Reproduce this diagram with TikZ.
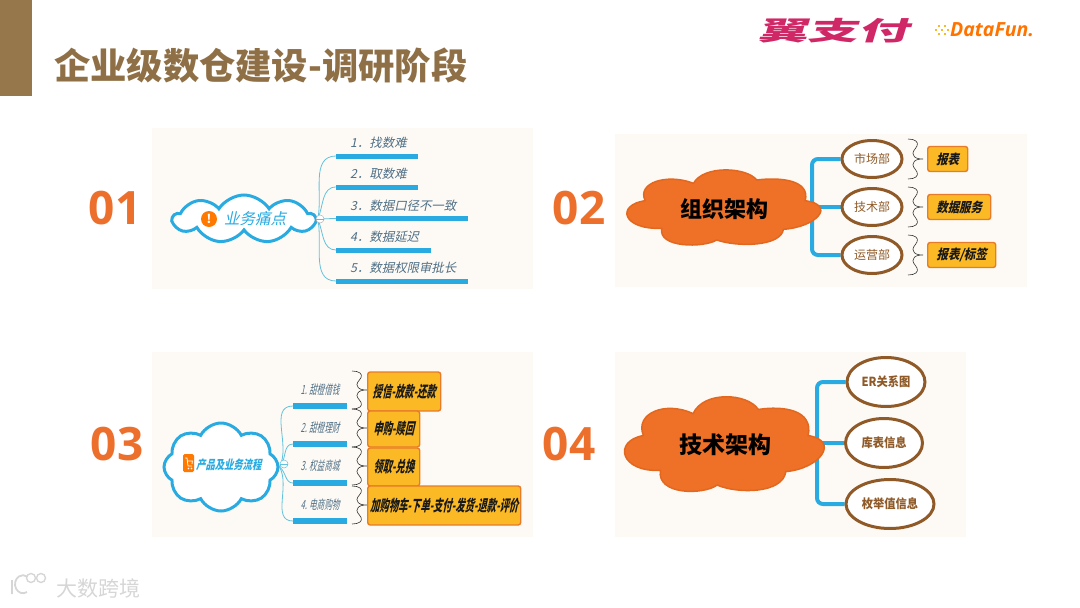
\documentclass[tikz,border=0pt]{standalone}
\usepackage{fontspec}
\usepackage{tikz}
\usetikzlibrary{shapes.symbols,shapes.geometric,backgrounds}
\newfontfamily\cjk{Noto Sans CJK SC}
\newfontfamily\cjkslant[FakeSlant=0.22]{Noto Sans CJK SC}
\newfontfamily\cjkmid[FakeSlant=0.22,FakeStretch=0.85]{Noto Sans CJK SC}
\newfontfamily\cjkflow[FakeSlant=0.22,FakeStretch=0.75]{Noto Sans CJK SC}
\newfontfamily\cjknarrow[FakeSlant=0.22,FakeStretch=0.6]{Noto Sans CJK SC}
\newfontfamily\cjktall[FakeStretch=0.9]{Noto Sans CJK SC}
\newfontfamily\logofont[FakeSlant=0.3,FakeStretch=1.95]{Noto Sans CJK SC}
\newfontfamily\numfont{Open Sans}
\definecolor{barbrown}{HTML}{96774C}
\definecolor{titlebrown}{HTML}{8F7046}
\definecolor{numorange}{HTML}{EC6F2C}
\definecolor{skyblue}{HTML}{29ABE2}
\definecolor{thinblue}{HTML}{62C2DE}
\definecolor{paper}{HTML}{FDFAF5}
\definecolor{cloudfill}{HTML}{EE7127}
\definecolor{cloudedge}{HTML}{E2671F}
\definecolor{ringbrown}{HTML}{8F5A28}
\definecolor{boxfill}{HTML}{FBB926}
\definecolor{boxedge}{HTML}{E87B2A}
\definecolor{labelblue}{HTML}{4F6F86}
\definecolor{markgray}{HTML}{D6D6D6}
\tikzset{
  paperbox/.style={fill=paper,draw=none},
  bignum/.style={text=numorange,font=\numfont\bfseries\fontsize{46}{46}\selectfont,inner sep=0pt},
  bluecloud/.style={shape=cloud,cloud puffs=9,cloud puff arc=115,cloud ignores aspect,draw=skyblue,line width=3pt,fill=white,inner sep=0pt},
  cloudtext/.style={inner sep=0pt,text=black,font=\cjk\bfseries\fontsize{22}{22}\selectfont},
  ring/.style={shape=ellipse,draw=ringbrown,line width=3pt,fill=white,text=ringbrown,inner sep=0pt},
  bar/.style={fill=skyblue,inner sep=0pt,minimum height=5pt},
  barlabel/.style={text=labelblue,inner sep=0pt},
  yellowbox/.style={fill=boxfill,draw=boxedge,line width=1.4pt,rounded corners=2.5pt,inner sep=0pt,text=black!90},
  thinlink/.style={draw=thinblue,line width=0.8pt},
  thicklink/.style={draw=skyblue,line width=4pt,rounded corners=6pt},
  foldmark/.style={shape=circle,draw=gray!60,fill=white,line width=0.5pt,minimum size=8pt,inner sep=0pt},
  curly/.pic={
    \draw[line width=0.6pt,black!80] (-5,-20) .. controls (2,-20) and (6,-17) .. (4,-13)
      .. controls (2,-9) and (-2,-7) .. (1,-3) .. controls (2,-1) and (5,0) .. (10,0)
      .. controls (5,0) and (2,1) .. (1,3) .. controls (-2,7) and (2,9) .. (4,13)
      .. controls (6,17) and (2,20) .. (-5,20);
  },
  % lobed outline, 192 wide and 72 high around its centre
  orangeblob/.pic={
    \draw[fill=cloudfill,draw=cloudedge,line width=1.5pt] (-77.3,-8.3)
      .. controls (-107,-4) and (-100,21) .. (-60.7,19.3)
      .. controls (-65,39) and (-19,39) .. (-5.7,31)
      .. controls (14,38) and (58,38) .. (61,20.3)
      .. controls (94,18) and (114,-4) .. (82.7,-8.3)
      .. controls (88,-29) and (58,-32) .. (34.3,-29)
      .. controls (24,-42) and (-19,-44) .. (-29,-25.7)
      .. controls (-56,-36) and (-86,-26) .. (-77.3,-8.3) -- cycle;
  }
}
\begin{document}
\begin{tikzpicture}[x=1pt,y=-1pt]
  \useasboundingbox (0,0) rectangle (1080,608);
  % paper panels
  \begin{scope}[on background layer]
    \fill[paperbox] (152,128) rectangle (533,289);
    \fill[paperbox] (615,134) rectangle (1027,287);
    \fill[paperbox] (152,352) rectangle (533,537);
    \fill[paperbox] (615,352) rectangle (966,537);
  \end{scope}
  % header
  \fill[barbrown] (0,0) rectangle (32,96);
  \node[anchor=west,inner sep=0pt,text=titlebrown,font=\cjk\bfseries\fontsize{36.3}{37}\selectfont] (title) at (54,66) {企业级数仓建设-调研阶段};
  \node[anchor=west,inner sep=0pt,text=magenta!65!red!85!black,font=\logofont\bfseries\fontsize{26}{26}\selectfont] (paylogo) at (757,31) {翼支付};
  \foreach \x/\y in {936/30,939/26,939/34,942/30,945/26,945/34,948/30} {
    \fill[boxfill] (\x-1.3,\y-1.3) rectangle (\x+1.3,\y+1.3);
  }
  \node[anchor=west,inner sep=0pt,text=orange!90!red,font=\numfont\bfseries\itshape\fontsize{19.5}{20}\selectfont] (funlogo) at (950,30) {DataFun.};
  % numbers
  \node[bignum] (n1) at (115,208) {01};
  \node[bignum] (n2) at (579,208) {02};
  \node[bignum] (n3) at (117,444) {03};
  \node[bignum] (n4) at (569,444) {04};
  % panel 1
  \node[bluecloud,minimum width=142pt,minimum height=48pt] (pain) at (244,219) {};
  \node[shape=circle,fill=orange!95!red,text=white,minimum size=16pt,inner sep=0pt,font=\cjk\bfseries\fontsize{12}{12}\selectfont] (painicon) at (209,219) {!};
  \node[anchor=west,inner sep=0pt,text=skyblue,font=\cjkslant\fontsize{15.5}{16}\selectfont] (paintext) at (224,219) {业务痛点};
  \foreach \n/\y/\w/\t/\o in {1/156/82/1．找数难/78,2/187/82/2．取数难/66,3/218.5/132/3．数据口径不一致/0,4/250/95/4．数据延迟/-66,5/281/132/5．数据权限审批长/-78} {
    \node[bar,anchor=west,minimum width=\w pt] (p\n) at (336,\y) {};
    \node[barlabel,anchor=west,font=\cjkslant\fontsize{12.4}{13}\selectfont] (pt\n) at (350,\y-13) {\t};
    \draw[thinlink] (pain.east) to[out=\o,in=180] (p\n.west);
  }
  \node[foldmark] (painfold) at (320,219) {};
  \draw[gray!70,line width=0.5pt] (painfold.west) -- (painfold.east);
  % panel 2
  \pic at (722.5,209) {orangeblob};
  \node[cloudtext] (org) at (724,209) {组织架构};
  \coordinate (orgtrunk) at (812,207);
  \foreach \n/\y/\t/\bw/\b in {1/159/市场部/40/报表,2/207/技术部/63/数据服务,3/255/运营部/68/{报表/标签}} {
    \node[ring,minimum width=60pt,minimum height=37pt,font=\cjk\fontsize{12}{12}\selectfont] (dept\n) at (872,\y) {\t};
    \pic at (913,\y) {curly};
    \node[yellowbox,anchor=west,minimum width=\bw pt,minimum height=25pt,font=\cjkmid\bfseries\fontsize{13.4}{14}\selectfont] (res\n) at (927,\y) {\b};
  }
  \begin{scope}[on background layer]
    \draw[thicklink] (dept1.west) -| (orgtrunk) |- (dept3.west);
    \draw[thicklink] (orgtrunk) -- (dept2.west);
  \end{scope}
  % panel 3
  \node[bluecloud,cloud puffs=8,cloud puff arc=125,minimum width=114pt,minimum height=88pt] (flow) at (221,467) {};
  \node[fill=orange!95!red,rounded corners=1.5pt,minimum width=11pt,minimum height=18pt,inner sep=0pt] (flowicon) at (188.5,463) {};
  \draw[white,line width=0.8pt] (185,458) -- (187,458) -- (188,466) -- (192,466) (187.4,461) -- (192.4,461) -- (192,464);
  \fill[white] (188.5,468.5) circle (0.9) (191.5,468.5) circle (0.9);
  \node[anchor=west,inner sep=0pt,text=skyblue,font=\cjkflow\bfseries\fontsize{12.4}{13}\selectfont] (flowtext) at (196,465) {产品及业务流程};
  \foreach \n/\y/\by/\t/\o/\ww/\yy/\h/\s in {1/406/390/1. 甜橙借钱/62/73/391.5/39/授信-放款-还款,2/444/428/2. 甜橙理财/45/52/429/36/申购-赎回,3/483/466/3. 权益商城/-35/52/467/38/领取-兑换,4/521/505/4. 电商购物/-60/153/505.5/39/加购物车-下单-支付-发货-退款-评价} {
    \node[bar,anchor=west,minimum width=54pt,minimum height=5.5pt] (q\n) at (293,\y) {};
    \node[barlabel,font=\cjknarrow\fontsize{12.6}{13}\selectfont] (qt\n) at (320,\by) {\t};
    \draw[thinlink] (flow.east) to[out=\o,in=180] (q\n.west);
    \pic[yscale=0.95] at (357,\by) {curly};
    \node[yellowbox,anchor=west,minimum width=\ww pt,minimum height=\h pt,font=\cjknarrow\bfseries\fontsize{15.5}{16}\selectfont] (act\n) at (367,\yy) {\s};
  }
  \node[foldmark,draw=thinblue] (flowfold) at (284,464) {};
  \draw[thinblue,line width=0.5pt] (flowfold.west) -- (flowfold.east);
  % panel 4
  \pic[xscale=1.03,yscale=1.26] at (723,446) {orangeblob};
  \node[cloudtext,font=\cjk\bfseries\fontsize{23}{23}\selectfont] (tech) at (725,445) {技术架构};
  \coordinate (techtrunk) at (817,443);
  \node[ring,minimum width=78pt,minimum height=49pt,font=\cjktall\bfseries\fontsize{12.5}{13}\selectfont] (er) at (886,382) {ER关系图};
  \node[ring,minimum width=77pt,minimum height=49pt,font=\cjktall\bfseries\fontsize{12.5}{13}\selectfont] (tbl) at (884,443) {库表信息};
  \node[ring,minimum width=88pt,minimum height=49pt,font=\cjktall\bfseries\fontsize{12.5}{13}\selectfont] (enum) at (890,504) {枚举值信息};
  \begin{scope}[on background layer]
    \draw[thicklink] (er.west) -| (techtrunk) |- (enum.west);
    \draw[thicklink] (techtrunk) -- (tbl.west);
  \end{scope}
  % watermark
  \draw[markgray,line width=1.8pt] (12,594) -- (12,580) (27,592) arc (60:300:8 and 9);
  \draw[markgray,line width=1.4pt] (31,578) circle (4.5) (41,578) circle (4.5);
  \node[anchor=west,inner sep=0pt,text=markgray,font=\cjk\fontsize{21}{21}\selectfont] (marktext) at (56,588) {大数跨境};
\end{tikzpicture}
\end{document}
